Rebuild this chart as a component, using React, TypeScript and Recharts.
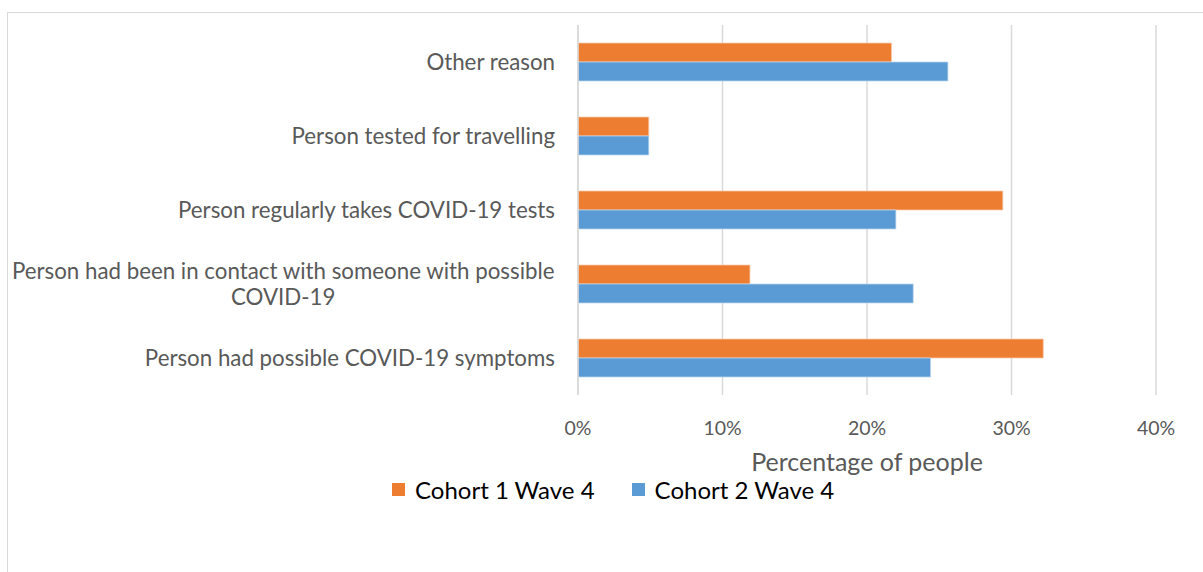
import React from "react";
import { BarChart, Bar, XAxis, YAxis, CartesianGrid, Legend } from "recharts";

const reasons = [
  "Other reason",
  "Person tested for travelling",
  "Person regularly takes COVID-19 tests",
  "Person had been in contact with someone with possible COVID-19",
  "Person had possible COVID-19 symptoms",
];
const cohort1 = [21.7, 4.9, 29.4, 11.9, 32.2];
const cohort2 = [25.6, 4.9, 22.0, 23.2, 24.4];
const xTicks = [0, 10, 20, 30, 40];

const seriesNames = ["Cohort 1 Wave 4", "Cohort 2 Wave 4"];
const ORANGE = "#ED7D31";
const BLUE = "#5B9BD5";
const FONT = "Lato, 'Open Sans', sans-serif";
const CAT_SIZE = 22.3;

const data = reasons.map((r, i) => ({ reason: r, c1: cohort1[i], c2: cohort2[i] }));

// long labels wrap in two lines, second line centred under the first
const wrapAt = "possible";
function measure(text: string, size: number) {
  const c = document.createElement("canvas").getContext("2d");
  if (!c) return text.length * size * 0.5;
  c.font = `${size}px Lato`;
  return c.measureText(text).width;
}

function CategoryTick(props: any) {
  const { x, y, payload } = props;
  const label: string = payload.value;
  const size = CAT_SIZE;
  const idx = label.indexOf(wrapAt);
  if (label.length > 45 && idx > 0) {
    const first = label.slice(0, idx + wrapAt.length);
    const second = label.slice(idx + wrapAt.length).trim();
    const w = measure(first, size);
    const cx = x - w / 2;
    return (
      <g>
        <text x={cx} y={y - 13} dy="0.35em" textAnchor="middle" fill="#595959" fontSize={size} fontFamily={FONT}>
          {first}
        </text>
        <text x={cx} y={y + 13} dy="0.35em" textAnchor="middle" fill="#595959" fontSize={size} fontFamily={FONT}>
          {second}
        </text>
      </g>
    );
  }
  return (
    <text x={x} y={y} dy="0.35em" textAnchor="end" fill="#595959" fontSize={size} fontFamily={FONT}>
      {label}
    </text>
  );
}

function LegendContent() {
  const colors = [ORANGE, BLUE];
  return (
    <div style={{ display: "flex", alignItems: "center", fontFamily: FONT, fontSize: 24, lineHeight: "27px", color: "#000" }}>
      {seriesNames.map((n, i) => (
        <div key={n} style={{ display: "flex", alignItems: "center", marginRight: 37 }}>
          <span style={{ width: 13, height: 13, background: colors[i], display: "inline-block", marginRight: 10 }} />
          <span>{n}</span>
        </div>
      ))}
    </div>
  );
}

export default function App() {
  return (
    <div style={{ position: "absolute", left: 0, top: 0, width: 1203, height: 572, overflow: "hidden", background: "#fff" }}>
      <div style={{ position: "absolute", left: 7, top: 12, width: 1240, height: 620, border: "1px solid #D9D9D9" }} />
      <div style={{ position: "absolute", left: 0, top: 0 }}>
        <BarChart
          width={1203}
          height={572}
          data={data}
          layout="vertical"
          margin={{ top: 25, right: 47, bottom: 120, left: 0 }}
          barSize={19}
          barGap={0}
        >
          <CartesianGrid horizontal={false} stroke="#D9D9D9" strokeWidth={1.5} />
          <XAxis
            type="number"
            domain={[0, 40]}
            ticks={xTicks}
            tickFormatter={(v) => `${v}%`}
            axisLine={false}
            tickLine={false}
            height={30}
            tickMargin={20}
            tick={{ fill: "#595959", fontSize: 19.5, fontFamily: FONT }}
            label={{ value: "Percentage of people", position: "bottom", offset: 28, fill: "#595959", fontSize: 25, fontFamily: FONT }}
          />
          <YAxis
            type="category"
            dataKey="reason"
            width={578}
            axisLine={{ stroke: "#D9D9D9", strokeWidth: 1.5 }}
            tickLine={false}
            tickSize={0}
            tickMargin={23}
            tick={<CategoryTick />}
            interval={0}
          />
          <Legend content={<LegendContent />} wrapperStyle={{ left: 392, top: 476, width: "auto" }} />
          <Bar dataKey="c1" name={seriesNames[0]} fill={ORANGE} stroke="#F8CBAD" strokeWidth={0.75} isAnimationActive={false} />
          <Bar dataKey="c2" name={seriesNames[1]} fill={BLUE} stroke="#BDD7EE" strokeWidth={0.75} isAnimationActive={false} />
        </BarChart>
      </div>
    </div>
  );
}
